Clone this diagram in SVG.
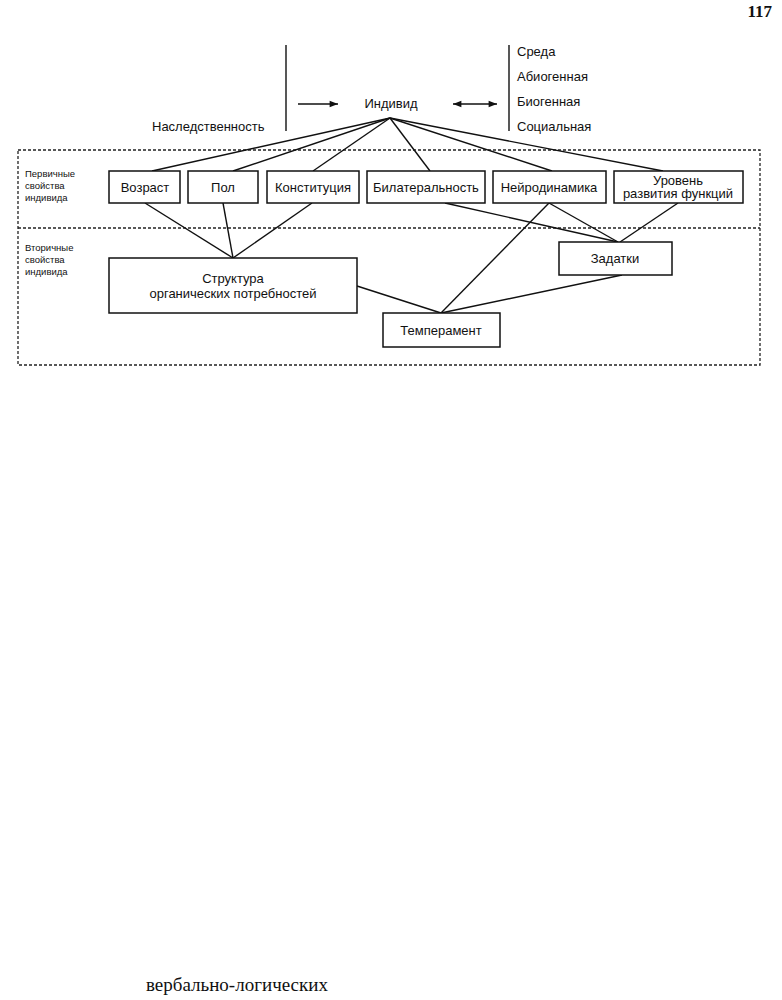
<svg xmlns="http://www.w3.org/2000/svg" width="782" height="1000" viewBox="0 0 782 1000">
<style>
.t{font-family:"Liberation Sans",Arial,sans-serif;font-size:13px;fill:#111}
.c{text-anchor:middle}
.s{font-family:"Liberation Sans",Arial,sans-serif;font-size:9.5px;fill:#111}
.box{fill:#fff;stroke:#111;stroke-width:1.5}
.ln{stroke:#111;stroke-width:1.4;fill:none}
.dash{stroke:#222;stroke-width:1.3;fill:none;stroke-dasharray:3 2}
</style>
<defs>
<marker id="ah" viewBox="0 0 10 10" refX="10" refY="5" markerWidth="7" markerHeight="6" orient="auto-start-reverse"><path d="M0,1 L10,5 L0,9 z" fill="#111"/></marker>
</defs>
<rect width="782" height="1000" fill="#fff"/>
<text x="772" y="17" text-anchor="end" style="font-family:'Liberation Serif','Times New Roman',serif;font-size:17px;font-weight:bold" fill="#111">117</text>

<g id="frame">
<rect class="dash" x="18" y="150" width="742" height="215"/>
<line class="dash" x1="18" y1="228" x2="760" y2="228"/>
<text class="s" x="25" y="177">Первичные</text>
<text class="s" x="25" y="189">свойства</text>
<text class="s" x="25" y="201">индивида</text>
<text class="s" x="25" y="251">Вторичные</text>
<text class="s" x="25" y="263">свойства</text>
<text class="s" x="25" y="275">индивида</text>
</g>

<g id="connectors">
<line class="ln" x1="286" y1="45" x2="286" y2="131"/>
<line class="ln" x1="509" y1="45" x2="509" y2="131"/>
<line class="ln" x1="298" y1="104" x2="338" y2="104" marker-end="url(#ah)"/>
<line class="ln" x1="453" y1="104" x2="497" y2="104" marker-start="url(#ah)" marker-end="url(#ah)"/>
<line class="ln" x1="390" y1="118" x2="152" y2="171"/>
<line class="ln" x1="390" y1="118" x2="233" y2="171"/>
<line class="ln" x1="390" y1="118" x2="313" y2="171"/>
<line class="ln" x1="390" y1="118" x2="430" y2="171"/>
<line class="ln" x1="390" y1="118" x2="552" y2="171"/>
<line class="ln" x1="390" y1="118" x2="663" y2="171"/>
<line class="ln" x1="145" y1="203" x2="233" y2="258"/>
<line class="ln" x1="223" y1="203" x2="233" y2="258"/>
<line class="ln" x1="312" y1="203" x2="233" y2="258"/>
<line class="ln" x1="445" y1="203" x2="618" y2="242"/>
<line class="ln" x1="549" y1="203" x2="618" y2="242"/>
<line class="ln" x1="549" y1="203" x2="441" y2="313"/>
<line class="ln" x1="678" y1="203" x2="620" y2="242"/>
<line class="ln" x1="622" y1="275" x2="441" y2="313"/>
<line class="ln" x1="357" y1="286" x2="441" y2="313"/>
</g>

<g id="heredity"><text class="t" x="152" y="131">Наследственность</text></g>
<g id="individ"><text class="t c" x="391" y="108">Индивид</text></g>
<g id="env">
<text class="t" x="517" y="56">Среда</text>
<text class="t" x="517" y="81">Абиогенная</text>
<text class="t" x="517" y="106">Биогенная</text>
<text class="t" x="517" y="131">Социальная</text>
</g>

<g id="vozrast"><rect class="box" x="109" y="171" width="71" height="32"/><text class="t c" x="145" y="192">Возраст</text></g>
<g id="pol"><rect class="box" x="188" y="171" width="70" height="32"/><text class="t c" x="223" y="192">Пол</text></g>
<g id="konst"><rect class="box" x="267" y="171" width="92" height="32"/><text class="t c" x="313" y="192">Конституция</text></g>
<g id="bilat"><rect class="box" x="367" y="171" width="118" height="32"/><text class="t c" x="426" y="192">Билатеральность</text></g>
<g id="neiro"><rect class="box" x="493" y="171" width="113" height="32"/><text class="t c" x="549" y="192">Нейродинамика</text></g>
<g id="uroven"><rect class="box" x="614" y="171" width="129" height="32"/><text class="t c" x="678" y="185">Уровень</text><text class="t c" x="678" y="198">развития функций</text></g>
<g id="struktura"><rect class="box" x="109" y="258" width="248" height="55"/><text class="t c" x="233" y="283">Структура</text><text class="t c" x="233" y="298">органических потребностей</text></g>
<g id="zadatki"><rect class="box" x="559" y="242" width="113" height="33"/><text class="t c" x="615" y="263">Задатки</text></g>
<g id="temperament"><rect class="box" x="383" y="313" width="117" height="34"/><text class="t c" x="441" y="335">Темперамент</text></g>

<text x="146" y="991" style="font-family:'Liberation Serif','Times New Roman',serif;font-size:19px" fill="#111">вербально-логических</text>
</svg>
